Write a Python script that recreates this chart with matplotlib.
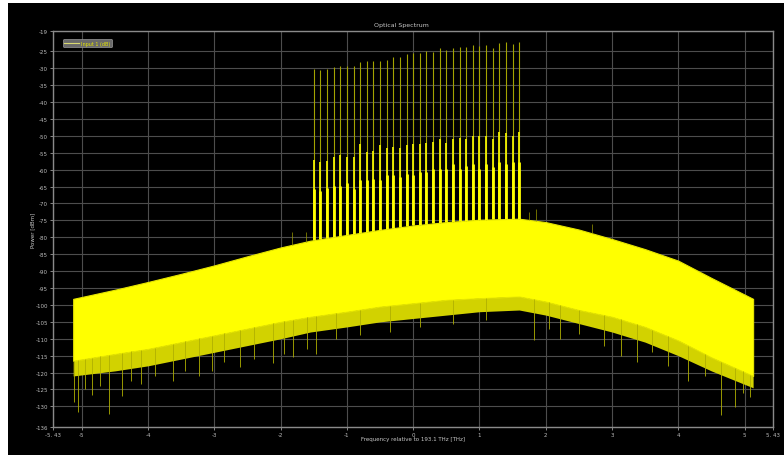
import numpy as np
import matplotlib
matplotlib.use('Agg')
from matplotlib import pyplot as plt
from matplotlib.patches import Rectangle

# noise envelope (THz, dBm)
env_freq = [-5.13, -4.5, -4.0, -3.5, -3.0, -2.5, -2.0, -1.55, -1.0, -0.5, 0.0,
            0.5, 1.0, 1.6, 2.0, 2.5, 3.0, 3.5, 4.0, 4.5, 5.13]
env_top = [-98.2, -95.5, -93.2, -90.8, -88.3, -85.6, -83.0, -81.0, -79.3, -77.8, -76.5,
           -75.5, -74.8, -74.5, -75.5, -77.7, -80.5, -83.5, -86.9, -92.0, -98.2]
env_bottom = [-116.5, -114.5, -113.0, -111.0, -109.0, -107.0, -105.0, -103.5, -102.0, -100.5, -99.5,
              -98.5, -98.0, -97.5, -99.0, -101.5, -103.5, -106.5, -110.5, -115.5, -121.0]
# grassy fringe under the solid band
env_fringe = [-121.0, -119.5, -118.0, -116.0, -114.0, -112.0, -110.0, -108.0, -106.5, -105.0, -104.0,
              -103.0, -102.0, -101.5, -103.0, -105.5, -108.0, -111.0, -115.0, -119.5, -124.5]

# downward noise spikes
spike_freq = [-5.12, -5.05, -4.95, -4.85, -4.72, -4.59, -4.39, -4.25, -4.1, -3.9, -3.63, -3.45,
              -3.23, -3.03, -2.85, -2.62, -2.4, -2.12, -1.95, -1.82, -1.6, -1.47, -1.17,
              -0.8, -0.35, 0.1, 0.6, 1.1, 1.82, 2.05, 2.22, 2.5, 2.88, 3.13, 3.38, 3.6,
              3.85, 4.15, 4.4, 4.65, 4.85, 4.97, 5.09]
spike_db = [-128.7, -131.7, -125.0, -126.5, -124.0, -132.2, -126.8, -122.5, -123.5, -121.0, -122.4, -119.5,
            -120.9, -119.5, -117.0, -118.3, -116.0, -117.3, -114.5, -115.5, -113.0, -114.5, -110.0,
            -109.0, -108.0, -106.5, -105.5, -104.5, -110.5, -107.0, -110.0, -108.5, -112.0, -115.1, -116.9, -114.0,
            -118.0, -122.4, -121.0, -132.6, -130.2, -126.0, -127.3]

# small upward spikes over the noise
up_freq = [-1.83, -1.62, 1.75, 1.85, 2.7]
up_db = [-78.5, -78.5, -72.5, -71.5, -76.0]

# comb lines: 32 carriers from -1.5 to 1.6 THz
comb_freq = [-1.5, -1.4, -1.3, -1.2, -1.1, -1.0, -0.9, -0.8, -0.7, -0.6, -0.5, -0.4, -0.3, -0.2, -0.1, 0.0,
             0.1, 0.2, 0.3, 0.4, 0.5, 0.6, 0.7, 0.8, 0.9, 1.0, 1.1, 1.2, 1.3, 1.4, 1.5, 1.6]
comb_peak = [-30.3, -30.5, -30.1, -29.5, -29.3, -29.3, -29.3, -28.3, -27.8, -27.8, -27.9, -27.5, -26.7, -26.7,
             -25.7, -25.4, -25.4, -24.9, -25.1, -24.0, -24.6, -23.9, -23.7, -23.7, -23.1, -23.3, -23.1,
             -23.9, -22.5, -22.3, -22.7, -22.3]
comb_body = [-57.2, -57.6, -57.4, -56.4, -55.8, -56.2, -56.2, -52.4, -54.8, -54.6, -52.8, -53.6, -53.2, -53.6,
             -52.6, -52.5, -52.5, -52.0, -51.8, -51.0, -52.0, -50.8, -50.7, -51.0, -50.1, -49.9, -50.1,
             -51.0, -49.0, -49.3, -50.1, -49.0]
comb_core = [-65.7, -66.2, -65.5, -64.7, -64.7, -63.9, -65.7, -63.2, -63.2, -62.7, -63.2, -61.7, -61.7, -62.2,
             -61.2, -61.7, -60.7, -60.7, -59.8, -59.8, -59.8, -58.3, -59.8, -58.8, -58.3, -59.8, -58.3,
             -59.3, -57.8, -58.3, -57.8, -57.8]

yticks = [-19] + list(range(-25, -131, -5)) + [-136]
xticks = [-5.43, -5, -4, -3, -2, -1, 0, 1, 2, 3, 4, 5, 5.43]

fig = plt.figure(figsize=(7.84, 4.56), dpi=100, facecolor='white')
fig.patches.append(Rectangle((8 / 784, 0), 1, 452 / 456, transform=fig.transFigure,
                             facecolor='black', edgecolor='none', zorder=-5))

ax = fig.add_axes([53.3 / 784, (456 - 427.7) / 456, (773 - 53.3) / 784, (427.7 - 32) / 456])
ax.set_facecolor('black')
ax.set_xlim(-5.43, 5.43)
ax.set_ylim(-136, -19)

ax.set_xticks(xticks)
ax.set_xticklabels(['-5. 43'] + [str(t) for t in xticks[1:-1]] + ['5. 43'])
ax.set_yticks(yticks)
ax.set_yticklabels([str(t) for t in yticks])
ax.tick_params(colors='#bdbdbd', labelsize=4, length=2, width=0.5, pad=2)
ax.grid(True, color='#4d4d4d', linewidth=0.8)
for s in ax.spines.values():
    s.set_color('#8a8a8a')
    s.set_linewidth(1.0)

yellow = '#ffff00'
ax.fill_between(env_freq, env_fringe, env_bottom, color='#d2d200', linewidth=0, zorder=2)
ax.fill_between(env_freq, env_bottom, env_top, color=yellow, linewidth=0.8, edgecolor='#e6e600', zorder=3)
bottom_at_spike = np.interp(spike_freq, env_freq, env_bottom)
ax.vlines(spike_freq, spike_db, bottom_at_spike, color='#b0b000', linewidth=0.6, zorder=3)
top_at_up = np.interp(up_freq, env_freq, env_top)
ax.vlines(up_freq, top_at_up, up_db, color='#9a9a00', linewidth=0.5, zorder=3)

floor_at_comb = np.interp(comb_freq, env_freq, env_top)
ax.vlines(comb_freq, floor_at_comb, comb_peak, color='#a3a300', linewidth=0.8, zorder=4)
ax.vlines(comb_freq, floor_at_comb, comb_body, color='#f0f000', linewidth=1.3, zorder=5)
ax.vlines(comb_freq, floor_at_comb, comb_core, color=yellow, linewidth=2.0, zorder=6)

leg = ax.legend([plt.Line2D([], [], color='#d8d870', linewidth=0.8)], ['Input 1 (dB)'],
                loc='upper left', bbox_to_anchor=(0.01, 0.985), fontsize=3.5,
                frameon=True, facecolor='#6a6a6a', edgecolor='#9a9a9a', framealpha=1,
                handlelength=3, borderpad=0.3, handletextpad=0.5)
for t in leg.get_texts():
    t.set_color('#e6e600')
leg.get_frame().set_linewidth(0.5)

fig.text(401 / 784, 1 - 25 / 456, 'Optical Spectrum', color='#c8c8c8', fontsize=4.5,
         ha='center', va='center')
fig.text(413 / 784, 1 - 440 / 456, 'Frequency relative to 193.1 THz [THz]', color='#c8c8c8',
         fontsize=4, ha='center', va='center')
fig.text(33 / 784, 1 - 230 / 456, 'Power [dBm]', color='#c8c8c8', fontsize=4,
         ha='center', va='center', rotation=90)

fig.savefig('out.png', dpi=100, facecolor=fig.get_facecolor())
